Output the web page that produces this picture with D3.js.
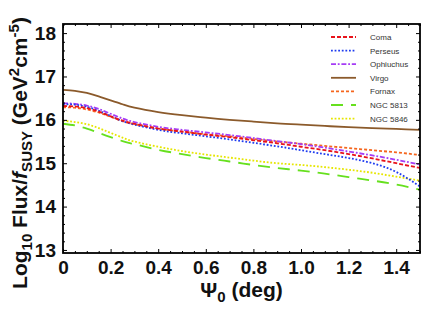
<!DOCTYPE html>
<html>
<head>
<meta charset="utf-8">
<script src="https://cdn.jsdelivr.net/npm/d3@7"></script>
<style>
  body { margin: 0; background: #fff; }
  svg { font-family: "Liberation Sans", Arial, sans-serif; }
</style>
</head>
<body>
<div id="chart"></div>
<script>
// angle values (deg)
var psi = [0, 0.05, 0.1, 0.15, 0.2, 0.25, 0.3, 0.4, 0.5, 0.6, 0.7, 0.8, 0.9, 1.0, 1.1, 1.2, 1.3, 1.4, 1.5];

// log10 flux per cluster
var coma      = [16.32, 16.31, 16.27, 16.19, 16.08, 15.98, 15.91, 15.80, 15.73, 15.66, 15.60, 15.53, 15.46, 15.38, 15.30, 15.21, 15.11, 15.00, 14.89];
var perseus   = [16.36, 16.35, 16.30, 16.21, 16.09, 15.97, 15.89, 15.77, 15.69, 15.62, 15.55, 15.47, 15.39, 15.30, 15.21, 15.12, 15.00, 14.80, 14.46];
var ophiuchus = [16.38, 16.37, 16.33, 16.25, 16.14, 16.03, 15.95, 15.84, 15.77, 15.71, 15.65, 15.58, 15.51, 15.44, 15.36, 15.27, 15.18, 15.08, 14.97];
var virgo     = [16.69, 16.67, 16.62, 16.54, 16.45, 16.36, 16.28, 16.18, 16.11, 16.05, 16.00, 15.96, 15.92, 15.89, 15.86, 15.83, 15.81, 15.79, 15.77];
var fornax    = [16.29, 16.28, 16.24, 16.17, 16.07, 15.97, 15.90, 15.80, 15.73, 15.67, 15.62, 15.56, 15.50, 15.45, 15.40, 15.35, 15.30, 15.25, 15.19];
var ngc5813   = [15.91, 15.87, 15.80, 15.70, 15.60, 15.51, 15.44, 15.31, 15.21, 15.12, 15.04, 14.96, 14.89, 14.83, 14.76, 14.68, 14.60, 14.51, 14.39];
var ngc5846   = [15.98, 15.95, 15.90, 15.81, 15.70, 15.59, 15.50, 15.38, 15.28, 15.20, 15.13, 15.06, 15.00, 14.96, 14.91, 14.85, 14.78, 14.69, 14.60];

var names = ["Coma", "Perseus", "Ophiuchus", "Virgo", "Fornax", "NGC 5813", "NGC 5846"];
var xTicks = [0, 0.2, 0.4, 0.6, 0.8, 1.0, 1.2, 1.4];
var xTickLabels = ["0", "0.2", "0.4", "0.6", "0.8", "1.0", "1.2", "1.4"];
var yTicks = [13, 14, 15, 16, 17, 18];

var svgWidth = 422, svgHeight = 309;
var margin = {top: 24, right: 2, bottom: 56, left: 63};
var width = svgWidth - margin.left - margin.right;
var height = svgHeight - margin.top - margin.bottom;

var svg = d3.select("#chart").append("svg")
    .attr("width", svgWidth)
    .attr("height", svgHeight);

var chartGroup = svg.append("g")
    .attr("transform", `translate(${margin.left}, ${margin.top})`);

var xScale = d3.scaleLinear().domain([0, 1.5]).range([0, width]);
var yScale = d3.scaleLinear().domain([12.93, 18.21]).range([height, 0]);

// line styles for each series
var series = [
    {name: names[0], vals: coma,      color: "#e8131b", dash: "4,2",           w: 1.8},
    {name: names[1], vals: perseus,   color: "#1f3cf0", dash: "1.8,1.8",       w: 1.8},
    {name: names[2], vals: ophiuchus, color: "#a53cf5", dash: "5,1.8,1.8,1.8", w: 1.8},
    {name: names[3], vals: virgo,     color: "#8b5a2b", dash: null,            w: 1.8},
    {name: names[4], vals: fornax,    color: "#f5661e", dash: "3,2",           w: 1.8},
    {name: names[5], vals: ngc5813,   color: "#66e01e", dash: "12,8",          w: 1.8},
    {name: names[6], vals: ngc5846,   color: "#e6e600", dash: "1.8,1.8",       w: 1.8}
];

var line = d3.line()
    .x(d => xScale(d[0]))
    .y(d => yScale(d[1]))
    .curve(d3.curveNatural);

chartGroup.append("clipPath").attr("id", "clip")
    .append("rect").attr("width", width).attr("height", height);

var plotArea = chartGroup.append("g").attr("clip-path", "url(#clip)");

// draw back to front so the top of the list is on top
series.slice().reverse().forEach(function(s) {
    plotArea.append("path")
        .datum(psi.map((p, i) => [p, s.vals[i]]))
        .attr("d", line)
        .attr("fill", "none")
        .attr("stroke", s.color)
        .attr("stroke-width", s.w)
        .attr("stroke-dasharray", s.dash);
});

// axes with inward ticks on all four sides
var xMinor = d3.range(0, 1.5001, 0.05).filter(v => Math.abs(v / 0.2 - Math.round(v / 0.2)) > 1e-6);
var yMinor = d3.range(13, 18.21, 0.2).filter(v => Math.abs(v - Math.round(v)) > 1e-6);

function styleAxis(g) {
    g.select(".domain").remove();
    g.selectAll("line").attr("stroke", "#000").attr("stroke-width", 1);
    g.selectAll("text").attr("font-size", "19px").attr("font-weight", "bold").attr("fill", "#111");
}

chartGroup.append("g")
    .attr("transform", `translate(0, ${height})`)
    .call(d3.axisBottom(xScale).tickValues(xTicks).tickFormat((d, i) => xTickLabels[i]).tickSizeInner(-4).tickSizeOuter(0).tickPadding(8))
    .call(styleAxis);
chartGroup.append("g")
    .attr("transform", `translate(0, ${height})`)
    .call(d3.axisBottom(xScale).tickValues(xMinor).tickFormat("").tickSizeInner(-2).tickSizeOuter(0))
    .call(styleAxis);
chartGroup.append("g")
    .call(d3.axisTop(xScale).tickValues(xTicks).tickFormat("").tickSizeInner(-4).tickSizeOuter(0))
    .call(styleAxis);
chartGroup.append("g")
    .call(d3.axisTop(xScale).tickValues(xMinor).tickFormat("").tickSizeInner(-2).tickSizeOuter(0))
    .call(styleAxis);

chartGroup.append("g")
    .call(d3.axisLeft(yScale).tickValues(yTicks).tickFormat(d3.format("d")).tickSizeInner(-4).tickSizeOuter(0).tickPadding(7))
    .call(styleAxis);
chartGroup.append("g")
    .call(d3.axisLeft(yScale).tickValues(yMinor).tickFormat("").tickSizeInner(-2).tickSizeOuter(0))
    .call(styleAxis);
chartGroup.append("g")
    .attr("transform", `translate(${width}, 0)`)
    .call(d3.axisRight(yScale).tickValues(yTicks).tickFormat("").tickSizeInner(-4).tickSizeOuter(0))
    .call(styleAxis);
chartGroup.append("g")
    .attr("transform", `translate(${width}, 0)`)
    .call(d3.axisRight(yScale).tickValues(yMinor).tickFormat("").tickSizeInner(-2).tickSizeOuter(0))
    .call(styleAxis);

// frame
chartGroup.append("rect")
    .attr("width", width)
    .attr("height", height)
    .attr("fill", "none")
    .attr("stroke", "#000")
    .attr("stroke-width", 1.8);

// legend
var legend = chartGroup.append("g").attr("transform", "translate(268, 13)");
series.forEach(function(s, i) {
    var row = legend.append("g").attr("transform", `translate(0, ${i * 13.6})`);
    row.append("line")
        .attr("x1", 0).attr("x2", 25)
        .attr("stroke", s.color)
        .attr("stroke-width", s.w)
        .attr("stroke-dasharray", s.dash);
    row.append("text")
        .attr("x", 39)
        .attr("y", 3)
        .attr("font-size", "8px")
        .attr("fill", "#333")
        .text(s.name);
});

// x title
var xTitle = svg.append("text")
    .attr("x", margin.left + width / 2)
    .attr("y", 297)
    .attr("text-anchor", "middle")
    .attr("font-size", "21px")
    .attr("font-weight", "bold")
    .attr("fill", "#111");
xTitle.append("tspan").text("\u03A8");
xTitle.append("tspan").attr("font-size", "15px").attr("dy", 5).text("0");
xTitle.append("tspan").attr("dy", -5).text(" (deg)");

// y title
var yTitle = svg.append("text")
    .attr("transform", "translate(27, 153) rotate(-90)")
    .attr("text-anchor", "middle")
    .attr("font-size", "21px")
    .attr("font-weight", "bold")
    .attr("fill", "#111");
yTitle.append("tspan").text("Log");
yTitle.append("tspan").attr("font-size", "15px").attr("dy", 5).text("10");
yTitle.append("tspan").attr("dy", -5).text(" Flux/");
yTitle.append("tspan").attr("font-style", "italic").text("f");
yTitle.append("tspan").attr("font-size", "15px").attr("dy", 5).text("SUSY");
yTitle.append("tspan").attr("dy", -5).text(" (GeV");
yTitle.append("tspan").attr("font-size", "15px").attr("dy", -8).text("2");
yTitle.append("tspan").attr("dy", 8).text("cm");
yTitle.append("tspan").attr("font-size", "15px").attr("dy", -8).text("-5");
yTitle.append("tspan").attr("dy", 8).text(")");
</script>
</body>
</html>
